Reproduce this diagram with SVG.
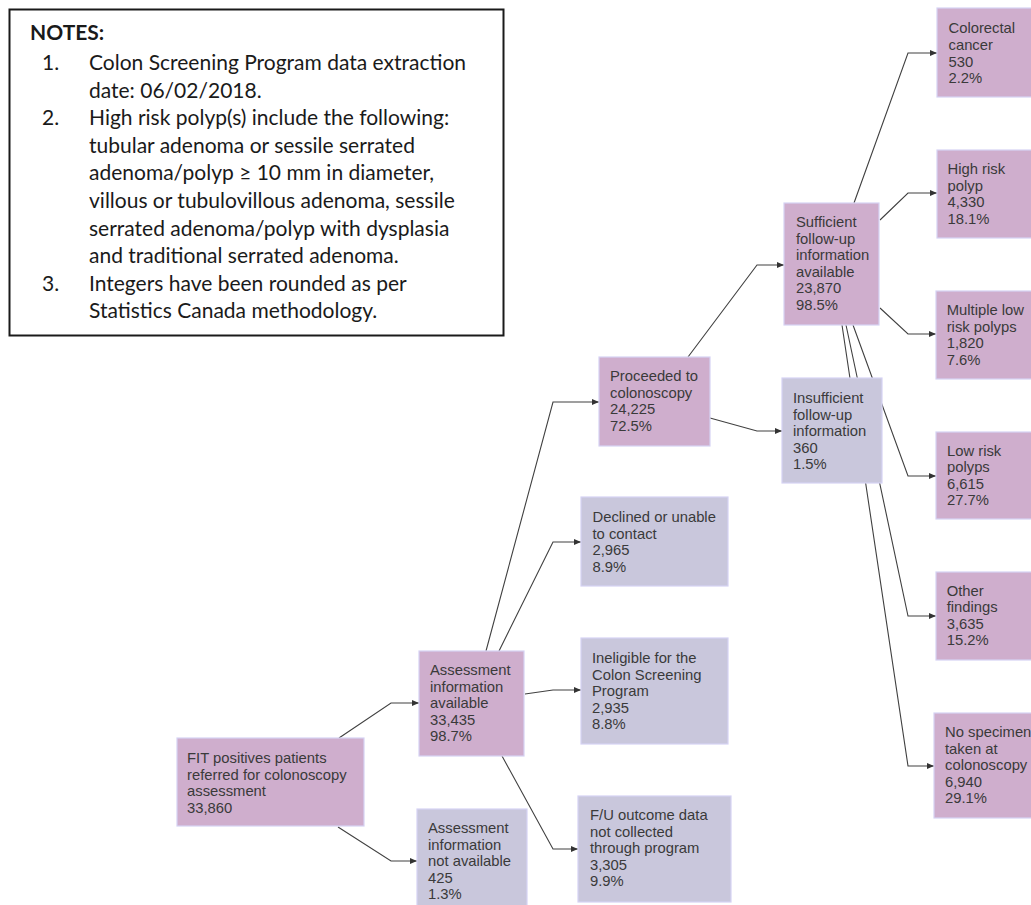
<svg xmlns="http://www.w3.org/2000/svg" width="1031" height="905" viewBox="0 0 1031 905">
<style>
.notes{font-family:Lato,"Liberation Sans",sans-serif;font-size:21px;fill:#1a1a1a}
.nb{font-weight:bold}
.t{font-family:"Liberation Sans",Arial,sans-serif;font-size:14.8px;fill:#3a3a3a}
.p{fill:#cfaecd;stroke:#d6d2f4;stroke-width:1.2}
.g{fill:#c9c7dc;stroke:#d6d2f4;stroke-width:1.2}
.c{fill:none;stroke:#404040;stroke-width:1.1}
</style>
<defs>
<marker id="ah" markerUnits="userSpaceOnUse" markerWidth="7" markerHeight="6" refX="7" refY="3" orient="auto">
<path d="M0,0 L7,3 L0,6 z" fill="#333"/>
</marker>
</defs>
<rect width="1031" height="905" fill="#fff"/>
<g id="notes">
<rect x="9.5" y="9.5" width="494" height="326" fill="#fff" stroke="#1a1a1a" stroke-width="2"/>
<text class="notes nb" x="30" y="40">NOTES:</text>
<text class="notes" x="42" y="70">1.</text>
<text class="notes" x="89" y="70">Colon Screening Program data extraction</text>
<text class="notes" x="89" y="97.6">date: 06/02/2018.</text>
<text class="notes" x="42" y="125.2">2.</text>
<text class="notes" x="89" y="125.2">High risk polyp(s) include the following:</text>
<text class="notes" x="89" y="152.8">tubular adenoma or sessile serrated</text>
<text class="notes" x="89" y="180.4">adenoma/polyp ≥ 10 mm in diameter,</text>
<text class="notes" x="89" y="208">villous or tubulovillous adenoma, sessile</text>
<text class="notes" x="89" y="235.6">serrated adenoma/polyp with dysplasia</text>
<text class="notes" x="89" y="263.2">and traditional serrated adenoma.</text>
<text class="notes" x="42" y="290.8">3.</text>
<text class="notes" x="89" y="290.8">Integers have been rounded as per</text>
<text class="notes" x="89" y="318.4">Statistics Canada methodology.</text>
</g>
<g id="connectors">
<path class="c" marker-end="url(#ah)" d="M339,738 L391,703 L419,703"/>
<path class="c" marker-end="url(#ah)" d="M338,827 L391,861 L417,861"/>
<path class="c" marker-end="url(#ah)" d="M486,651 L553,402 L599,402"/>
<path class="c" marker-end="url(#ah)" d="M499,651 L553,542 L581,542"/>
<path class="c" marker-end="url(#ah)" d="M525,694 L553,690 L581,690"/>
<path class="c" marker-end="url(#ah)" d="M502,756 L553,849 L578,849"/>
<path class="c" marker-end="url(#ah)" d="M688,357 L757,265 L784,265"/>
<path class="c" marker-end="url(#ah)" d="M710,418 L757,431 L782,431"/>
<path class="c" marker-end="url(#ah)" d="M854,203 L908,53 L937,53"/>
<path class="c" marker-end="url(#ah)" d="M880,220 L908,193 L937,193"/>
<path class="c" marker-end="url(#ah)" d="M880,308 L908,334 L936,334"/>
<path class="c" marker-end="url(#ah)" d="M853,325 L908,476 L936,476"/>
<path class="c" marker-end="url(#ah)" d="M846,325 L908,616 L936,616"/>
<path class="c" marker-end="url(#ah)" d="M842,325 L908,766 L934,766"/>
</g>
<g id="fit">
<rect class="p" x="177" y="738" width="187" height="88"/>
<text class="t" x="187" y="763">FIT positives patients</text>
<text class="t" x="187" y="779.6">referred for colonoscopy</text>
<text class="t" x="187" y="796.2">assessment</text>
<text class="t" x="187" y="812.8">33,860</text>
</g>
<g id="assess-avail">
<rect class="p" x="419" y="651" width="105" height="105"/>
<text class="t" x="430" y="675">Assessment</text>
<text class="t" x="430" y="691.6">information</text>
<text class="t" x="430" y="708.2">available</text>
<text class="t" x="430" y="724.8">33,435</text>
<text class="t" x="430" y="741.4">98.7%</text>
</g>
<g id="assess-na">
<rect class="g" x="417" y="809" width="110" height="110"/>
<text class="t" x="428" y="833">Assessment</text>
<text class="t" x="428" y="849.6">information</text>
<text class="t" x="428" y="866.2">not available</text>
<text class="t" x="428" y="882.8">425</text>
<text class="t" x="428" y="899.4">1.3%</text>
</g>
<g id="proceeded">
<rect class="p" x="599" y="357" width="111" height="89"/>
<text class="t" x="610" y="381">Proceeded to</text>
<text class="t" x="610" y="397.6">colonoscopy</text>
<text class="t" x="610" y="414.2">24,225</text>
<text class="t" x="610" y="430.8">72.5%</text>
</g>
<g id="declined">
<rect class="g" x="581" y="497" width="147" height="89"/>
<text class="t" x="592.5" y="522">Declined or unable</text>
<text class="t" x="592.5" y="538.6">to contact</text>
<text class="t" x="592.5" y="555.2">2,965</text>
<text class="t" x="592.5" y="571.8">8.9%</text>
</g>
<g id="ineligible">
<rect class="g" x="581" y="638" width="147" height="106"/>
<text class="t" x="592" y="663">Ineligible for the</text>
<text class="t" x="592" y="679.6">Colon Screening</text>
<text class="t" x="592" y="696.2">Program</text>
<text class="t" x="592" y="712.8">2,935</text>
<text class="t" x="592" y="729.4">8.8%</text>
</g>
<g id="fu-not-collected">
<rect class="g" x="578" y="796" width="153" height="106"/>
<text class="t" x="590" y="820">F/U outcome data</text>
<text class="t" x="590" y="836.6">not collected</text>
<text class="t" x="590" y="853.2">through program</text>
<text class="t" x="590" y="869.8">3,305</text>
<text class="t" x="590" y="886.4">9.9%</text>
</g>
<g id="sufficient">
<rect class="p" x="784" y="203" width="95" height="122"/>
<text class="t" x="796" y="227">Sufficient</text>
<text class="t" x="796" y="243.6">follow-up</text>
<text class="t" x="796" y="260.2">information</text>
<text class="t" x="796" y="276.8">available</text>
<text class="t" x="796" y="293.4">23,870</text>
<text class="t" x="796" y="310">98.5%</text>
</g>
<g id="insufficient">
<rect class="g" x="782" y="378" width="100" height="105"/>
<text class="t" x="793" y="403">Insufficient</text>
<text class="t" x="793" y="419.6">follow-up</text>
<text class="t" x="793" y="436.2">information</text>
<text class="t" x="793" y="452.8">360</text>
<text class="t" x="793" y="469.4">1.5%</text>
</g>
<g id="colorectal">
<rect class="p" x="937" y="8" width="110" height="89"/>
<text class="t" x="948.5" y="33.3">Colorectal</text>
<text class="t" x="948.5" y="49.9">cancer</text>
<text class="t" x="948.5" y="66.5">530</text>
<text class="t" x="948.5" y="83.1">2.2%</text>
</g>
<g id="high-risk">
<rect class="p" x="937" y="150" width="110" height="88"/>
<text class="t" x="947.5" y="174">High risk</text>
<text class="t" x="947.5" y="190.6">polyp</text>
<text class="t" x="947.5" y="207.2">4,330</text>
<text class="t" x="947.5" y="223.8">18.1%</text>
</g>
<g id="multiple-low">
<rect class="p" x="936" y="291" width="110" height="88"/>
<text class="t" x="946.7" y="315">Multiple low</text>
<text class="t" x="946.7" y="331.6">risk polyps</text>
<text class="t" x="946.7" y="348.2">1,820</text>
<text class="t" x="946.7" y="364.8">7.6%</text>
</g>
<g id="low-risk">
<rect class="p" x="936" y="432" width="110" height="87"/>
<text class="t" x="947" y="455.5">Low risk</text>
<text class="t" x="947" y="472.1">polyps</text>
<text class="t" x="947" y="488.7">6,615</text>
<text class="t" x="947" y="505.3">27.7%</text>
</g>
<g id="other">
<rect class="p" x="936" y="572" width="110" height="88"/>
<text class="t" x="946.7" y="595.5">Other</text>
<text class="t" x="946.7" y="612.1">findings</text>
<text class="t" x="946.7" y="628.7">3,635</text>
<text class="t" x="946.7" y="645.3">15.2%</text>
</g>
<g id="no-specimen">
<rect class="p" x="934" y="713" width="110" height="105"/>
<text class="t" x="945" y="737">No specimen</text>
<text class="t" x="945" y="753.6">taken at</text>
<text class="t" x="945" y="770.2">colonoscopy</text>
<text class="t" x="945" y="786.8">6,940</text>
<text class="t" x="945" y="803.4">29.1%</text>
</g>
</svg>
